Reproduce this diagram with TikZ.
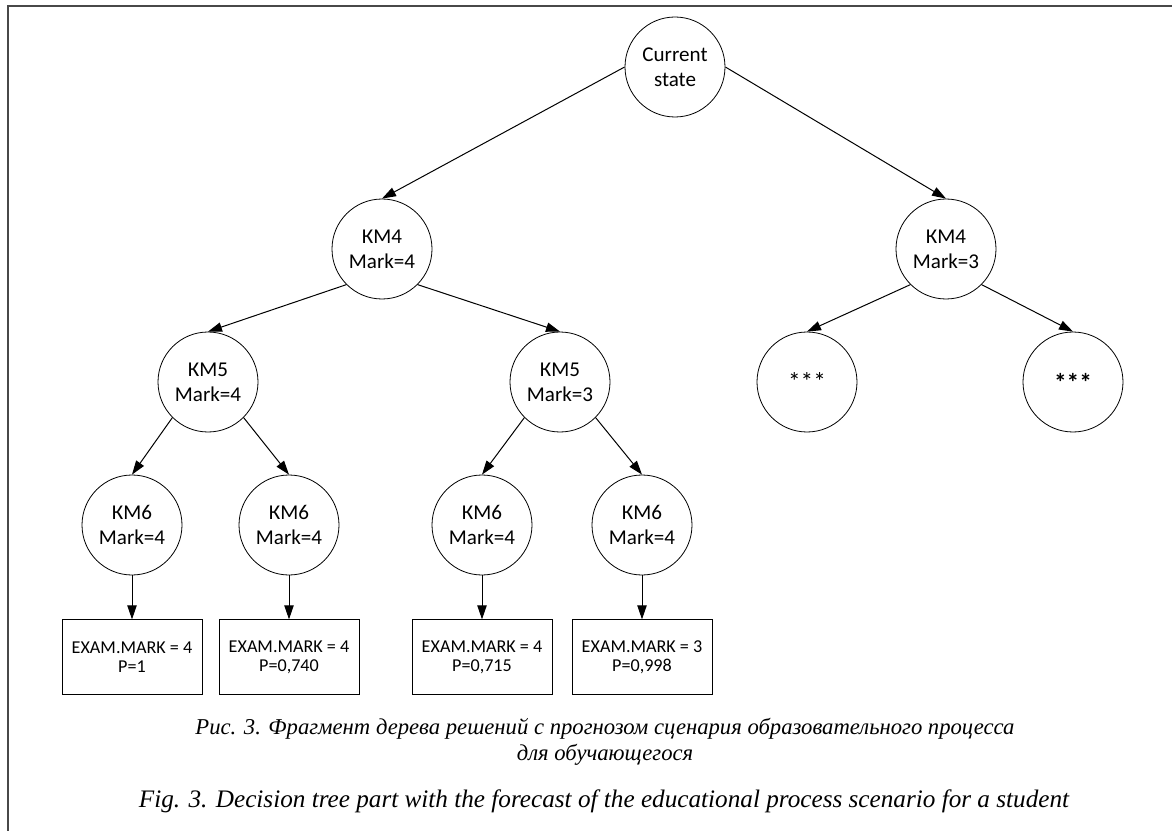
\documentclass[tikz,border=0pt]{standalone}
\usepackage{fontspec}
\setmainfont{Carlito}
\newfontfamily\captionfont{Liberation Serif}
\usetikzlibrary{arrows.meta, positioning}
\definecolor{FrameGray}{HTML}{484848}

\tikzset{
  state/.style={draw, circle, line width=0.6pt, minimum size=75pt, inner sep=0pt,
                align=center, font=\fontsize{15.8}{18.75}\selectfont},
  result/.style={draw, rectangle, line width=0.6pt, minimum width=105pt,
                 minimum height=56.25pt, inner sep=0pt, align=center,
                 font=\fontsize{13.6}{14.3}\selectfont},
  link/.style={-{Triangle[length=10.5pt,width=7pt]}, line width=0.75pt},
  capline/.style={align=center, font=\captionfont\itshape\fontsize{17}{19.5}\selectfont}
}

\begin{document}
\begin{tikzpicture}[x=0.75pt, y=-0.75pt]
\useasboundingbox (0,0) rectangle (1172,831);
% frame
\draw[FrameGray, line width=1.5pt] (7.5,831) -- (7.5,6.5) -- (1172,6.5);

% tree levels
\node[state] (root) at (675,67) {Current\\state};
\node[state] (km4a) at (382,249) {КМ4\\Mark=4};
\node[state] (km4b) at (946,249) {КМ4\\Mark=3};
\node[state] (km5a) at (208,382) {КМ5\\Mark=4};
\node[state] (km5b) at (560,382) {КМ5\\Mark=3};
\node[state, font=\fontsize{19}{22}\selectfont] (starsa) at (807,382) {***};
\node[state, font=\fontsize{19}{22}\selectfont\bfseries] (starsb) at (1073,382) {***};
\node[state] (km6a) at (132,525) {КМ6\\Mark=4};
\node[state] (km6b) at (289,525) {КМ6\\Mark=4};
\node[state] (km6c) at (482,525) {КМ6\\Mark=4};
\node[state] (km6d) at (642,525) {КМ6\\Mark=4};

% exam results
\node[result, below=33pt of km6a] (exama) {EXAM.MARK = 4\\P=1};
\node[result, below=33pt of km6b] (examb) {EXAM.MARK = 4\\P=0,740};
\node[result, below=33pt of km6c] (examc) {EXAM.MARK = 4\\P=0,715};
\node[result, below=33pt of km6d] (examd) {EXAM.MARK = 3\\P=0,998};

% connectors
\draw[link] (root.west) -- (km4a.north);
\draw[link] (root.east) -- (km4b.north);
\draw[link] (km4a.south west) -- (km5a.north);
\draw[link] (km4a.south east) -- (km5b.north);
\draw[link] (km4b.south west) -- (starsa.north);
\draw[link] (km4b.south east) -- (starsb.north);
\draw[link] (km5a.south west) -- (km6a.north);
\draw[link] (km5a.south east) -- (km6b.north);
\draw[link] (km5b.south west) -- (km6c.north);
\draw[link] (km5b.south east) -- (km6d.north);
\draw[link] (km6a) -- (exama);
\draw[link] (km6b) -- (examb);
\draw[link] (km6c) -- (examc);
\draw[link] (km6d) -- (examd);

% caption
\node[capline] (caprus) at (605,742) {Рис. 3. Фрагмент дерева решений с прогнозом сценария образовательного процесса\\для обучающегося};
\node[capline, font=\captionfont\itshape\fontsize{18.9}{21}\selectfont] (capeng) at (604,801) {Fig. 3. Decision tree part with the forecast of the educational process scenario for a student};
\end{tikzpicture}
\end{document}
